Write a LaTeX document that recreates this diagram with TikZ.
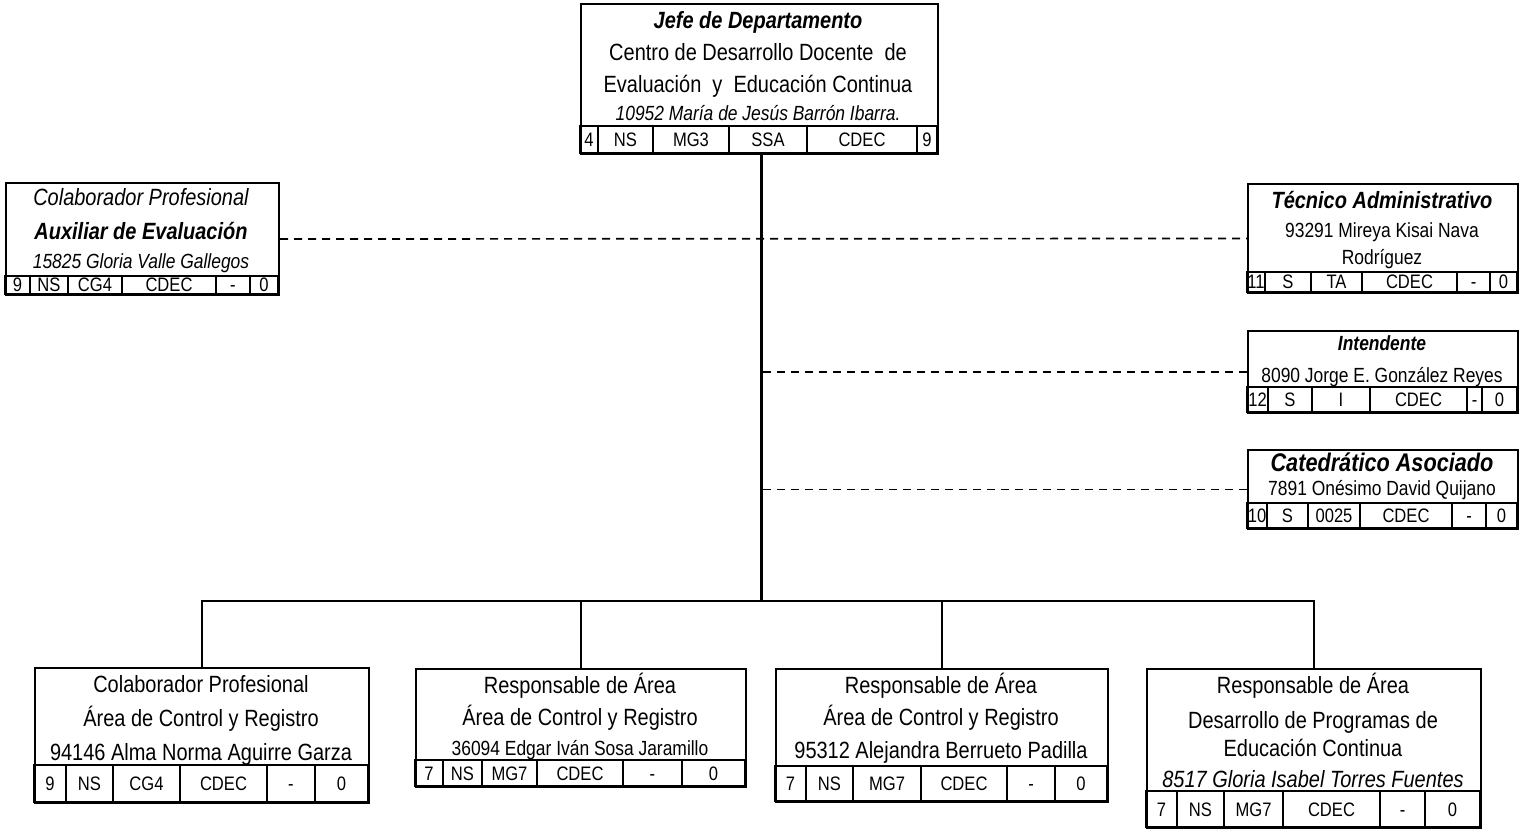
\documentclass[tikz,border=0pt]{standalone}
\usepackage{fontspec}
\setmainfont{Liberation Sans}[FakeStretch=0.85]
\usepackage{tikz}
\newcommand{\grande}{\fontsize{23.5}{28}\selectfont}
\newcommand{\chico}{\fontsize{20.5}{24}\selectfont}
% one row of code cells under a box
\newcommand{\renglon}[4]{%
  \foreach \xa/\xb/\etiq [count=\i] in {#4}
    \draw[celda] (\xa,#2) rectangle (\xb,#3)
      node[dato] (#1-c\i) at ({(\xa+\xb)/2},{(#2+#3)/2}) {\etiq};}

\begin{document}
\begin{tikzpicture}[x=1pt, y=-1pt, line cap=butt,
    caja/.style={draw, line width=2pt, inner sep=0pt, anchor=north west},
    celda/.style={line width=1.6pt},
    txt/.style={inner sep=0pt, text depth=0pt},
    gde/.style={txt, font=\grande, text height=16.9pt},
    chi/.style={txt, font=\chico, text height=14.8pt},
    dato/.style={txt, font=\fontsize{19.5}{23}\selectfont, text height=14pt},
    linea/.style={line width=2pt},
    tronco/.style={line width=3pt},
    punteada/.style={line width=1.7pt, dash pattern=on 8pt off 6pt}]

  \useasboundingbox (0,0) rectangle (1519,829);

  % jefe
  \node[caja, minimum width=357pt, minimum height=150pt] (jefe) at (580,3) {};
  \node[gde, font=\grande\bfseries\itshape] (jefe-1) at (758,20) {Jefe de Departamento};
  \node[gde] (jefe-2) at (758,52) {Centro de Desarrollo Docente~ de};
  \node[gde] (jefe-3) at (758,84) {Evaluación~ y~ Educación Continua};
  \node[chi, font=\chico\itshape] (jefe-4) at (758,113) {10952 María de Jesús Barrón Ibarra.};
  \renglon{jefe}{126}{153}{580/598/4, 598/653/NS, 653/729/MG3, 729/807/SSA, 807/917/CDEC, 917/937/9}

  % izquierda
  \node[caja, minimum width=273pt, minimum height=112pt] (auxeval) at (5,182) {};
  \node[gde, font=\grande\itshape] (auxeval-1) at (141,197) {Colaborador Profesional};
  \node[gde, font=\grande\bfseries\itshape] (auxeval-2) at (141,231) {Auxiliar de Evaluación};
  \node[chi, font=\chico\itshape] (auxeval-3) at (141,261) {15825 Gloria Valle Gallegos};
  \renglon{auxeval}{276}{294}{5/30/9, 30/68/NS, 68/122/CG4, 122/216/CDEC, 216/250/-, 250/278/0}

  % derecha
  \node[caja, minimum width=270pt, minimum height=109pt] (tecadm) at (1247,183) {};
  \node[gde, font=\grande\bfseries\itshape] (tecadm-1) at (1382,200) {Técnico Administrativo};
  \node[chi] (tecadm-2) at (1382,230) {93291 Mireya Kisai Nava};
  \node[chi] (tecadm-3) at (1382,257) {Rodríguez};
  \renglon{tecadm}{272}{292}{1247/1265/11, 1265/1311/S, 1311/1362/TA, 1362/1457/CDEC, 1457/1490/-, 1490/1517/0}

  \node[caja, minimum width=270pt, minimum height=82pt] (intend) at (1247,330) {};
  \node[chi, font=\chico\bfseries\itshape] (intend-1) at (1382,343) {Intendente};
  \node[chi] (intend-2) at (1382,375) {8090 Jorge E. González Reyes};
  \renglon{intend}{387}{412}{1247/1268/12, 1268/1312/S, 1312/1370/I, 1370/1467/CDEC, 1467/1482/-, 1482/1517/0}

  \node[caja, minimum width=270pt, minimum height=79pt] (catasoc) at (1247,449) {};
  \node[gde, font=\fontsize{25.5}{30}\selectfont\bfseries\itshape, text height=18.4pt] (catasoc-1) at (1382,462) {Catedrático Asociado};
  \node[chi] (catasoc-2) at (1382,488) {7891 Onésimo David Quijano};
  \renglon{catasoc}{503}{528}{1247/1267/10, 1267/1308/S, 1308/1360/0025, 1360/1452/CDEC, 1452/1486/-, 1486/1517/0}

  % abajo
  \node[caja, minimum width=334pt, minimum height=135pt] (colab) at (34,667) {};
  \node[gde] (colab-1) at (201,684) {Colaborador Profesional};
  \node[gde] (colab-2) at (201,718) {Área de Control y Registro};
  \node[gde] (colab-3) at (201,752) {94146 Alma Norma Aguirre Garza};
  \renglon{colab}{765}{802}{34/66/9, 66/113/NS, 113/180/CG4, 180/267/CDEC, 267/315/-, 315/368/0}

  \node[caja, minimum width=330pt, minimum height=118pt] (resp1) at (415,668) {};
  \node[gde] (resp1-1) at (580,685) {Responsable de Área};
  \node[gde] (resp1-2) at (580,717) {Área de Control y Registro};
  \node[chi] (resp1-3) at (580,748) {36094 Edgar Iván Sosa Jaramillo};
  \renglon{resp1}{760}{786}{415/443/7, 443/482/NS, 482/537/MG7, 537/623/CDEC, 623/682/-, 682/745/0}

  \node[caja, minimum width=332pt, minimum height=133pt] (resp2) at (775,668) {};
  \node[gde] (resp2-1) at (941,685) {Responsable de Área};
  \node[gde] (resp2-2) at (941,717) {Área de Control y Registro};
  \node[gde] (resp2-3) at (941,750) {95312 Alejandra Berrueto Padilla};
  \renglon{resp2}{766}{801}{775/806/7, 806/853/NS, 853/921/MG7, 921/1007/CDEC, 1007/1055/-, 1055/1107/0}

  \node[caja, minimum width=334pt, minimum height=159pt] (resp3) at (1146,668) {};
  \node[gde] (resp3-1) at (1313,685) {Responsable de Área};
  \node[gde] (resp3-2) at (1313,720) {Desarrollo de Programas de};
  \node[gde] (resp3-3) at (1313,748) {Educación Continua};
  \node[gde, font=\grande\itshape] (resp3-4) at (1313,779) {8517 Gloria Isabel Torres Fuentes};
  \renglon{resp3}{791}{827}{1146/1177/7, 1177/1224/NS, 1224/1283/MG7, 1283/1380/CDEC, 1380/1425/-, 1425/1480/0}

  % lineas
  \coordinate (nudo) at (761,601);
  \draw[tronco] (jefe.south -| nudo) -- (nudo);
  \draw[linea] (colab.north) |- (resp3.north |- nudo) -- (resp3.north);
  \draw[linea] (resp1.north) -- (resp1.north |- nudo);
  \draw[linea] (resp2.north) -- (resp2.north |- nudo);
  \draw[punteada] (auxeval.east) -- (tecadm.west);
  \draw[punteada] (intend.west) -- (intend.west -| nudo);
  \draw[punteada] (catasoc.west) -- (catasoc.west -| nudo);

\end{tikzpicture}
\end{document}
